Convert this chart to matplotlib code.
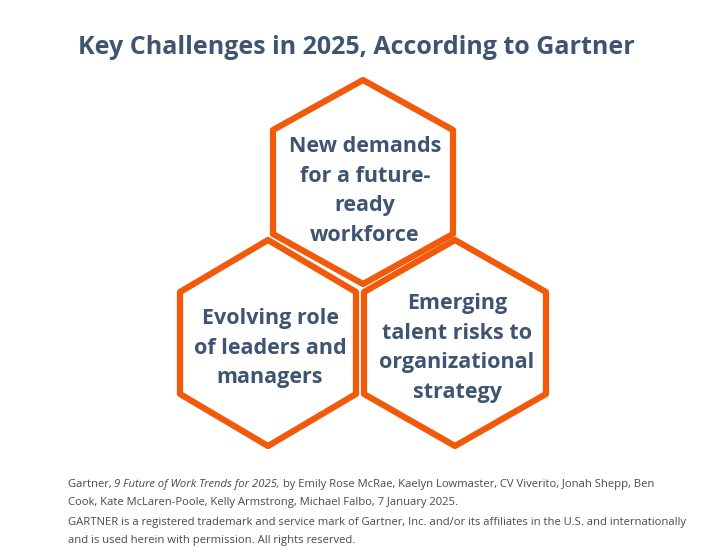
import matplotlib
matplotlib.use("Agg")
import matplotlib.pyplot as plt
from matplotlib.patches import Polygon

title = "Key Challenges in 2025, According to Gartner"
challenges = ["New demands\nfor a future-\nready\nworkforce",
              "Evolving role\nof leaders and\nmanagers",
              "Emerging\ntalent risks to\norganizational\nstrategy"]
footer_pre = "Gartner, "
footer_ital = "9 Future of Work Trends for 2025,"
footer_post = " by Emily Rose McRae, Kaelyn Lowmaster, CV Viverito, Jonah Shepp, Ben"
footer_lines = ["Cook, Kate McLaren-Poole, Kelly Armstrong, Michael Falbo, 7 January 2025.",
                "GARTNER is a registered trademark and service mark of Gartner, Inc. and/or its affiliates in the U.S. and internationally",
                "and is used herein with permission. All rights reserved."]

ORANGE = "#F15A0A"
TXT = "#3E5472"
FONT = "Open Sans"

fig = plt.figure(figsize=(7.10, 5.48), dpi=100)
ax = fig.add_axes([0, 0, 1, 1])
ax.set_xlim(0, 710); ax.set_ylim(548, 0); ax.axis("off")

ax.text(356, 48, title, ha="center", va="center", fontsize=18, fontweight="bold",
        color=TXT, family=FONT)

def hexagon(cx, cy, hw, hh, sh):
    pts = [(cx, cy - hh), (cx + hw, cy - sh), (cx + hw, cy + sh),
           (cx, cy + hh), (cx - hw, cy + sh), (cx - hw, cy - sh)]
    return Polygon(pts, closed=True, facecolor="white", edgecolor=ORANGE,
                   linewidth=4.5, joinstyle="round", zorder=2)

hexes = [(363, 182, 90, 102, 52), (268, 343, 88, 103, 51), (455, 343, 91, 103, 51)]
text_pos = [(365, 191), (270, 348), (457, 348)]
for (cx, cy, hw, hh, sh), lab, (tx, ty) in zip(hexes, challenges, text_pos):
    ax.add_patch(hexagon(cx, cy, hw, hh, sh))
    ax.text(tx, ty, lab, ha="center", va="center", fontsize=15.5, fontweight="bold",
            color=TXT, family=FONT, linespacing=1.55, zorder=3)

fs = 8.1
fc = "#4a4a4a"
fig.canvas.draw()
r = fig.canvas.get_renderer()
t1 = ax.text(68, 484, footer_pre, fontsize=fs, color=fc, family=FONT, va="center")
x = t1.get_window_extent(r).x1
t2 = ax.annotate(footer_ital, xy=(x, 484), xycoords=("figure pixels", "data"),
                 fontsize=fs, color=fc, family=FONT, style="italic", va="center")
fig.canvas.draw()
x2 = t2.get_window_extent(r).x1
ax.annotate(footer_post, xy=(x2, 484), xycoords=("figure pixels", "data"),
            fontsize=fs, color=fc, family=FONT, va="center")
for i, line in enumerate(footer_lines):
    ax.text(68, 503 + 19 * i, line, fontsize=fs, color=fc, family=FONT, va="center")

fig.savefig("out.png", dpi=100, facecolor="white")
